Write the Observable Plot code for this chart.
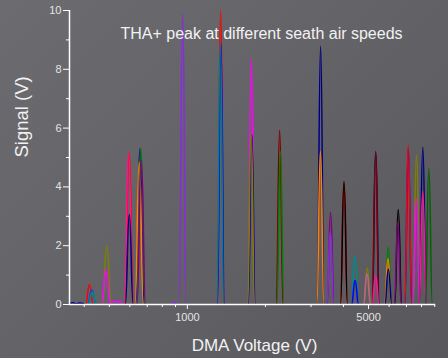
<!DOCTYPE html>
<html><head><meta charset="utf-8">
<script src="https://cdn.jsdelivr.net/npm/d3@7"></script>
<script src="https://cdn.jsdelivr.net/npm/@observablehq/plot@0.6"></script>
<style>html,body{margin:0;padding:0;background:#606064;overflow:hidden}</style>
</head><body><div id="chart"></div>
<script>
const titleText = "THA+ peak at different seath air speeds";
const xLabel = "DMA Voltage (V)";
const yLabel = "Signal (V)";
const xTicksMajor = [1000, 5000];
const xTicksMinor = [400, 500, 600, 700, 800, 900, 2000, 3000, 4000, 6000, 7000, 8000, 9000];
const yTicksMajor = [0, 2, 4, 6, 8, 10];
const yTicksMinor = [1, 3, 5, 7, 9];

// one trace per peak (voltage points, signal points), colour per trace
const runColors = [
  "#ff0000","#0050e0","#008a8a","#808000","#ff00ff",
  "#ff0000","#ff1493","#000080","#0000a0","#008000","#ff8000","#800080",
  "#8a2be2","#ff0000","#0000ff","#008080","#ff00ff","#000080","#808000",
  "#800000","#008000","#000080","#ff8000","#800080","#8a2be2",
  "#ff0000","#000000","#008b8b","#0000ff","#808000","#c06090",
  "#000080","#800000","#ff1493","#008000","#ff8000","#000080",
  "#000000","#800080","#0000ff","#ff0000","#808000","#ff00ff",
  "#000080","#ff1493","#006400","#000080","#8a2be2"
];
const runVoltages = [
  [405,419,433],[412,428,445],[414,430,447],[470,489,509],[466,485,505,515,550,562],
  [573,596,620],[571,593,617],[576,597,618],[631,656,682],[637,662,688],[628,652,677],[639,664,690],
  [929,959,990],[1302,1344,1387],[1305,1347,1390],[1298,1340,1383],[1710,1765,1821],[1717,1772,1829],[1707,1762,1818],
  [2199,2269,2342],[2214,2285,2358],[3164,3265,3369],[3159,3260,3364],[3457,3568,3682],[3448,3558,3672],
  [3891,4016,4145],[3895,4020,4149],[4289,4426,4568],[4297,4435,4577],[4790,4943,5101],[4777,4930,5088],
  [5165,5330,5501],[5156,5321,5491],[5156,5321,5491],[5770,5955,6146],[5756,5940,6130],[5775,5960,6151],
  [6306,6508,6716],[6279,6480,6687],[6894,7115,7343],[6891,7111,7339],[7417,7654,7899],[7403,7640,7884],
  [7843,8094,8353],[7837,8088,8347],[8274,8539,8812],
  [352,362,372,384,398],[880,895,905]
];
const runSignals = [
  [0,0.68,0],[0,0.5,0],[0,0.42,0],[0,2.0,0],[0,1.18,0,0.1,0.1,0],
  [0,5.17,0],[0,5.17,0],[0,3.06,0],[0,5.3,0],[0,5.3,0],[0,4.84,0],[0,4.9,0],
  [0,9.89,0],[0,10,0],[0,8.88,0],[0,8.98,0],[0,8.38,0],[0,5.8,0],[0,5.86,0],
  [0,5.92,0],[0,5.21,0],[0,8.78,0],[0,5.2,0],[0,3.14,0],[0,2.5,0],
  [0,4.14,0],[0,4.18,0],[0,1.67,0],[0,0.82,0],[0,1.24,0],[0,1.05,0],
  [0,5.2,0],[0,5.18,0],[0,0.99,0],[0,1.95,0],[0,1.56,0],[0,1.2,0],
  [0,3.23,0],[0,2.8,0],[0,5.3,0],[0,5.41,0],[0,5.1,0],[0,3.6,0],
  [0,5.35,0],[0,3.85,0],[0,4.62,0],
  [0.04,0.06,0.02,0.05,0.03],[0.05,0.08,0]
];

const rows = runVoltages.flatMap((vs, i) => vs.map((v, j) => ({run: i, v, s: runSignals[i][j], c: runColors[i]})));
const xDomain = [351, 9060];

const chart = Plot.plot({
  width: 448, height: 358,
  marginLeft: 69, marginRight: 13, marginTop: 10, marginBottom: 54,
  style: {
    background: "linear-gradient(135deg, #6c6b70 0%, #636267 50%, #58575b 100%)",
    fontFamily: "'Liberation Sans', Arial, sans-serif",
    fontSize: "11px",
    color: "#e4e4e4"
  },
  x: {type: "log", domain: xDomain},
  y: {domain: [0, 10]},
  color: {type: "identity"},
  marks: [
    Plot.line(rows, {x: "v", y: "s", z: "run", stroke: "c", curve: "bump-x", strokeWidth: 1.5}),
    Plot.ruleY([0], {stroke: "white", strokeWidth: 1.5}),
    Plot.ruleX([xDomain[0]], {stroke: "white", strokeWidth: 1.5}),
    Plot.axisX(xTicksMinor, {tickSize: 3, tickFormat: () => "", stroke: "white", label: null}),
    Plot.axisX(xTicksMajor, {tickSize: 5, tickFormat: () => "", stroke: "white", label: null}),
    Plot.text(xTicksMajor, {x: d => d, frameAnchor: "bottom", dy: 16, text: d => String(d), fill: "#e4e4e4", fontSize: 11}),
    Plot.axisY(yTicksMinor, {tickSize: 3, tickFormat: () => "", stroke: "white", label: null}),
    Plot.axisY(yTicksMajor, {tickSize: 6, tickPadding: 2, tickFormat: d => String(d), stroke: "white", fill: "#e4e4e4", label: null}),
    Plot.text([titleText], {frameAnchor: "top", dx: 9, dy: 23, text: d => d, fill: "#f2f2f2", fontSize: 16, lineAnchor: "middle"}),
    Plot.text([xLabel], {frameAnchor: "bottom", dx: 2, dy: 41, text: d => d, fill: "#f2f2f2", fontSize: 17, lineAnchor: "middle"}),
    Plot.text([yLabel], {frameAnchor: "left", dx: -47, text: d => d, fill: "#f2f2f2", fontSize: 18.5, rotate: -90, lineAnchor: "middle"})
  ]
});
document.getElementById("chart").appendChild(chart);
</script>
</body></html>
